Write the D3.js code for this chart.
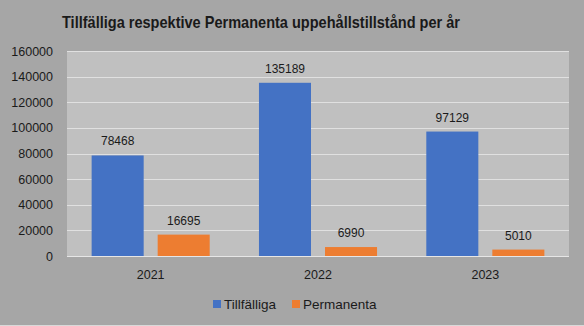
<!DOCTYPE html>
<html><head><meta charset="utf-8">
<script src="https://cdn.jsdelivr.net/npm/d3@7"></script>
<style>html,body{margin:0;padding:0;background:#a6a6a6;}svg{display:block;}</style>
</head><body>
<script>
const categories = ["2021", "2022", "2023"];
const seriesNames = ["Tillfälliga", "Permanenta"];
const tillfalliga = [78468, 135189, 97129];
const permanenta = [16695, 6990, 5010];
const yTicks = [0, 20000, 40000, 60000, 80000, 100000, 120000, 140000, 160000];
const colors = ["#4472C4", "#ED7D31"];
const title = "Tillfälliga respektive Permanenta uppehållstillstånd per år";

const W = 584, H = 326;
const m = {left: 67, right: 15, top: 51, bottom: 70};
const font = "'Liberation Sans', Arial, sans-serif";

const svg = d3.select("body").append("svg").attr("width", W).attr("height", H);
svg.append("rect").attr("width", W).attr("height", H).attr("fill", "#a6a6a6");

const x0 = d3.scaleBand().domain(categories).range([m.left, W - m.right]).paddingInner(0).paddingOuter(0);
const x1 = d3.scaleBand().domain(seriesNames).range([0, x0.bandwidth()]).paddingInner(0.212).paddingOuter(0.373);
const y = d3.scaleLinear().domain([0, 160000]).range([H - m.bottom, m.top]);

svg.append("rect").attr("x", m.left).attr("y", m.top).attr("width", W - m.left - m.right)
  .attr("height", H - m.bottom - m.top).attr("fill", "#c0c0c0");

// gridlines
svg.append("g").selectAll("line").data(yTicks).join("line")
  .attr("x1", m.left).attr("x2", W - m.right)
  .attr("y1", d => Math.round(y(d)) + 0.5).attr("y2", d => Math.round(y(d)) + 0.5)
  .attr("stroke", "#e0e0e0").attr("stroke-width", 1);

// y axis
const yAxis = svg.append("g").attr("transform", `translate(${m.left},0)`)
  .call(d3.axisLeft(y).tickValues(yTicks).tickFormat(d3.format("d")).tickSize(0).tickPadding(14));
yAxis.select(".domain").remove();
yAxis.selectAll("text").attr("font-family", font).attr("font-size", 12.5).attr("fill", "#1a1a1a");

const data = categories.map((c, i) => ({cat: c, vals: [tillfalliga[i], permanenta[i]]}));
const groups = svg.append("g").selectAll("g").data(data).join("g")
  .attr("transform", d => `translate(${x0(d.cat)},0)`);
groups.selectAll("rect").data(d => d.vals.map((v, j) => ({name: seriesNames[j], v, j})))
  .join("rect")
  .attr("x", d => x1(d.name)).attr("width", x1.bandwidth())
  .attr("y", d => y(d.v)).attr("height", d => y(0) - y(d.v))
  .attr("fill", d => colors[d.j]);
groups.selectAll("text.lbl").data(d => d.vals.map((v, j) => ({name: seriesNames[j], v, j})))
  .join("text").attr("class", "lbl")
  .attr("x", d => x1(d.name) + x1.bandwidth() / 2).attr("y", d => y(d.v) - 10)
  .attr("text-anchor", "middle").attr("font-family", font).attr("font-size", 12)
  .attr("fill", "#1a1a1a").text(d => d.v);

// x axis
svg.append("line").attr("x1", m.left).attr("x2", W - m.right)
  .attr("y1", y(0) + 0.5).attr("y2", y(0) + 0.5).attr("stroke", "#e6e6e6");
const xAxis = svg.append("g").attr("transform", `translate(0,${y(0)})`)
  .call(d3.axisBottom(x0).tickSize(0).tickPadding(14));
xAxis.select(".domain").remove();
xAxis.selectAll("text").attr("font-family", font).attr("font-size", 12.5).attr("fill", "#1a1a1a");

// title
svg.append("text").attr("x", 62).attr("y", 28)
  .attr("font-family", font).attr("font-weight", "bold").attr("font-size", 17)
  .attr("textLength", 398).attr("lengthAdjust", "spacingAndGlyphs")
  .attr("fill", "#1a1a1a").text(title);

// legend
const leg = svg.append("g").attr("transform", "translate(213,304)");
const legX = [0, 79];
seriesNames.forEach((n, i) => {
  leg.append("rect").attr("x", legX[i]).attr("y", -4).attr("width", 8).attr("height", 8).attr("fill", colors[i]);
  leg.append("text").attr("x", legX[i] + 11).attr("y", 0).attr("dy", "0.35em")
    .attr("font-family", font).attr("font-size", 13.5).attr("fill", "#1a1a1a").text(n);
});
svg.append("line").attr("x1", 0).attr("x2", W).attr("y1", H - 0.5).attr("y2", H - 0.5).attr("stroke", "#d9d9d9");
</script>
</body></html>
